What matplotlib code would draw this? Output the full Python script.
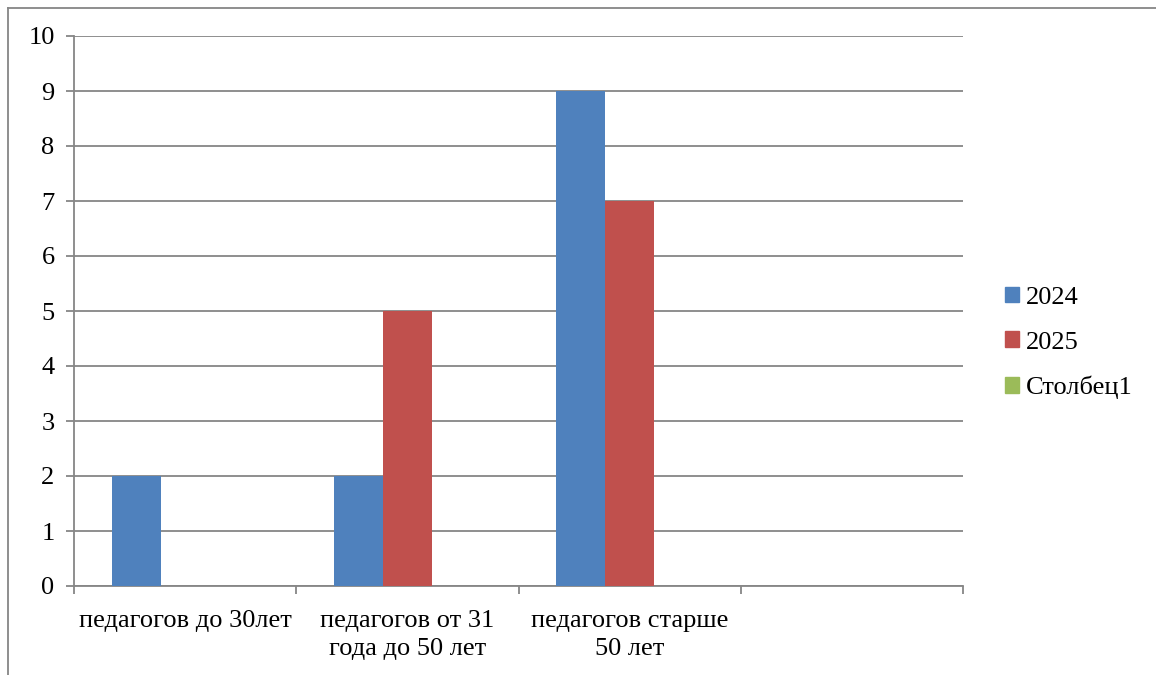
import numpy as np
import matplotlib.pyplot as plt
from matplotlib.patches import Patch

plt.rcParams['font.family'] = ['Liberation Serif', 'DejaVu Serif']

# Данные
categories = ["педагогов до 30лет", "педагогов от 31\nгода до 50 лет", "педагогов старше\n50 лет", ""]
series_names = ["2024", "2025", "Столбец1"]
values_2024 = [2, 2, 9, np.nan]
values_2025 = [np.nan, 5, 7, np.nan]
values_col1 = [np.nan, np.nan, np.nan, np.nan]
colors = ['#4F81BD', '#C0504D', '#9BBB59']

fig = plt.figure(figsize=(11.56, 6.75), dpi=100)
ax = fig.add_axes([74 / 1156, 1 - 586 / 675, (963 - 74) / 1156, (586 - 36) / 675])

x = np.arange(len(categories))
w = 0.22
for i, vals in enumerate([values_2024, values_2025, values_col1]):
    ax.bar(x + (i - 1) * w, vals, width=w, color=colors[i], zorder=3)

ax.set_xlim(-0.5, len(categories) - 0.5)
ax.set_ylim(0, 10)
ax.set_yticks(range(0, 11))
ax.yaxis.grid(True, color='#868686', linewidth=1.3, zorder=0)
ax.set_xticks(x)
ax.set_xticklabels(categories, fontsize=19, linespacing=1.4)
ax.set_xticks(np.arange(-0.5, len(categories)), minor=True)
ax.tick_params(axis='x', which='major', length=0, pad=17)
ax.tick_params(axis='x', which='minor', length=6, color='#868686', width=1.3)
ax.tick_params(axis='y', length=6, color='#868686', width=1.3, labelsize=19, pad=8)

for s in ['top', 'right']:
    ax.spines[s].set_visible(False)
for s in ['left', 'bottom']:
    ax.spines[s].set_color('#868686')
    ax.spines[s].set_linewidth(1.3)

handles = [Patch(color=c) for c in colors]
fig.legend(handles, series_names, loc='center left', bbox_to_anchor=(981 / 1156, 1 - 343 / 675),
           frameon=False, fontsize=19, handlelength=0.55, handleheight=0.55,
           handletextpad=0.25, labelspacing=0.85)

# рамка диаграммы
fig.add_artist(plt.Line2D([8 / 1156, 8 / 1156], [0, 1 - 8 / 675], color='#868686', linewidth=1.3))
fig.add_artist(plt.Line2D([8 / 1156, 1], [1 - 8 / 675, 1 - 8 / 675], color='#868686', linewidth=1.3))

fig.savefig("out.png", dpi=100)
